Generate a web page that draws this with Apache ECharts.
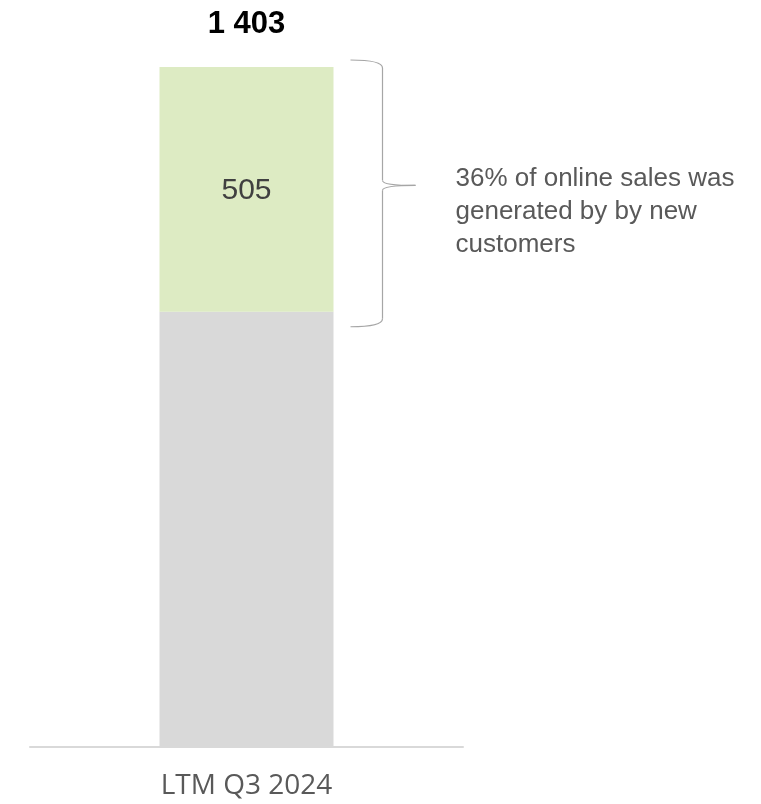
<!DOCTYPE html>
<html>
<head>
<meta charset="utf-8">
<script src="https://cdn.jsdelivr.net/npm/echarts@6/dist/echarts.min.js"></script>
<style>
  html, body { margin: 0; padding: 0; background: #fff; }
  #chart { width: 761px; height: 804px; }
</style>
</head>
<body>
<div id="chart"></div>
<script>
// Online sales, last twelve months: existing vs. new customers
const categories = ['LTM Q3 2024'];
const existingCustomers = [898];
const newCustomers = [505];
const noteText = '36% of online sales was\ngenerated by by new\ncustomers';

const totals = categories.map((_, i) => existingCustomers[i] + newCustomers[i]);
const fmtSpace = v => String(v).replace(/\B(?=(\d{3})+(?!\d))/g, ' ');

const chart = echarts.init(document.getElementById('chart'), null, { renderer: 'canvas' });

chart.setOption({
  animation: false,
  grid: { left: 30, right: 298, top: 67, bottom: 57 },
  xAxis: {
    type: 'category',
    data: categories,
    axisLine: { lineStyle: { color: '#d9d9d9', width: 2 } },
    axisTick: { show: false },
    axisLabel: {
      color: '#595959',
      fontFamily: 'Open Sans',
      fontSize: 28,
      margin: 25
    }
  },
  yAxis: {
    type: 'value',
    min: 0,
    max: totals[0],
    show: false,
    splitLine: { show: false }
  },
  series: [
    {
      name: 'Existing customers',
      type: 'bar',
      stack: 'sales',
      barWidth: 174,
      data: existingCustomers,
      itemStyle: { color: '#d9d9d9' }
    },
    {
      name: 'New customers',
      type: 'bar',
      stack: 'sales',
      barWidth: 174,
      data: newCustomers,
      itemStyle: { color: '#ddebc3' },
      label: {
        show: true,
        position: 'inside',
        offset: [0, 1],
        color: '#404040',
        fontFamily: 'Liberation Sans',
        fontSize: 30,
        formatter: p => fmtSpace(p.value)
      }
    },
    {
      // invisible carrier for the total above the stack
      name: 'Total',
      type: 'bar',
      stack: 'sales',
      barWidth: 174,
      data: totals.map(() => 0),
      itemStyle: { color: 'transparent' },
      label: {
        show: true,
        position: 'top',
        distance: 27,
        color: '#000',
        fontFamily: 'Liberation Sans',
        fontWeight: 'bold',
        fontSize: 31,
        formatter: p => fmtSpace(totals[p.dataIndex])
      }
    }
  ]
});

// Curly brace beside the new-customer segment, positioned from the data scale
const topPt = chart.convertToPixel({ xAxisIndex: 0, yAxisIndex: 0 }, [0, totals[0]]);
const midPt = chart.convertToPixel({ xAxisIndex: 0, yAxisIndex: 0 }, [0, existingCustomers[0]]);
const barRight = topPt[0] + 87;
const x0 = barRight + 17;
const y0 = topPt[1] - 7;
const y1 = midPt[1] + 15;
const ym = y0 + (y1 - y0) * 0.47;
const xv = x0 + 32;
const xt = x0 + 65;
const braceStyle = { fill: null, stroke: '#a6a6a6', lineWidth: 1.2 };
const curve = (ax, ay, cx, cy, bx, by) => ({
  type: 'bezierCurve',
  shape: { x1: ax, y1: ay, cpx1: cx, cpy1: cy, x2: bx, y2: by },
  style: braceStyle
});
const seg = (ax, ay, bx, by) => ({
  type: 'line',
  shape: { x1: ax, y1: ay, x2: bx, y2: by },
  style: braceStyle
});

chart.setOption({
  graphic: [
    curve(x0, y0, xv, y0, xv, y0 + 8),
    seg(xv, y0 + 8, xv, ym - 5),
    curve(xv, ym - 5, xv, ym, xt, ym),
    curve(xt, ym, xv, ym, xv, ym + 5),
    seg(xv, ym + 5, xv, y1 - 8),
    curve(xv, y1 - 8, xv, y1, x0, y1),
    {
      type: 'text',
      left: xt + 40,
      top: ym - 23,
      style: {
        text: noteText,
        fill: '#595959',
        font: '26px "Liberation Sans"',
        lineHeight: 33
      }
    }
  ]
});
</script>
</body>
</html>
